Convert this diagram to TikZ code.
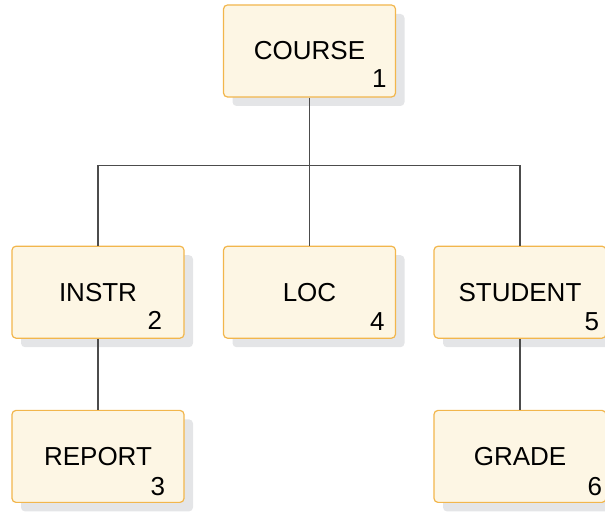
\documentclass[tikz,border=0pt]{standalone}
\usepackage{fontspec}
\setmainfont{Liberation Sans}
\usepackage{tikz}
\usetikzlibrary{positioning,shadows}
\definecolor{segfill}{HTML}{FDF6E4}
\definecolor{segedge}{HTML}{F2B64C}
\definecolor{segshadow}{HTML}{E4E5E7}

\begin{document}
\begin{tikzpicture}[
  font=\fontsize{13pt}{15pt}\selectfont,
  segment/.style={draw=segedge, fill=segfill, line width=0.6pt, rounded corners=2pt,
    minimum width=86pt, minimum height=46pt, inner sep=0pt,
    general shadow={fill=segshadow, shadow xshift=4.5pt, shadow yshift=-4.5pt}},
  seqno/.style={anchor=south east, inner sep=0pt},
  link/.style={draw=black!70, line width=0.9pt}
]
\useasboundingbox (0,0) rectangle (302.5pt,-256pt);

\node[segment] (course) at (154.75pt,-25.5pt) {COURSE};
\node[segment, below=74pt of course, xshift=-105.75pt] (instr) {INSTR};
\node[segment, below=74pt of course] (loc) {LOC};
\node[segment, below=74pt of course, xshift=105.25pt] (student) {STUDENT};
\node[segment, below=35.5pt of instr] (report) {REPORT};
\node[segment, below=35.5pt of student] (grade) {GRADE};

% sequence numbers
\node[seqno] (course-no) at ([xshift=-4.5pt, yshift=5pt]course.south east) {1};
\node[seqno] (instr-no) at ([xshift=-11pt, yshift=4.5pt]instr.south east) {2};
\node[seqno] (report-no) at ([xshift=-9.5pt, yshift=3.5pt]report.south east) {3};
\node[seqno] (loc-no) at ([xshift=-5.5pt, yshift=4pt]loc.south east) {4};
\node[seqno] (student-no) at ([xshift=-3.5pt, yshift=4pt]student.south east) {5};
\node[seqno] (grade-no) at ([xshift=-2pt, yshift=3.5pt]grade.south east) {6};

\coordinate (fork) at ([yshift=-34pt]course.south);
\draw[link] (course) -- (fork);
\draw[link] (instr) |- (fork) -| (student);
\draw[link] (fork) -- (loc);
\draw[link] (instr) -- (report);
\draw[link] (student) -- (grade);
\end{tikzpicture}
\end{document}
